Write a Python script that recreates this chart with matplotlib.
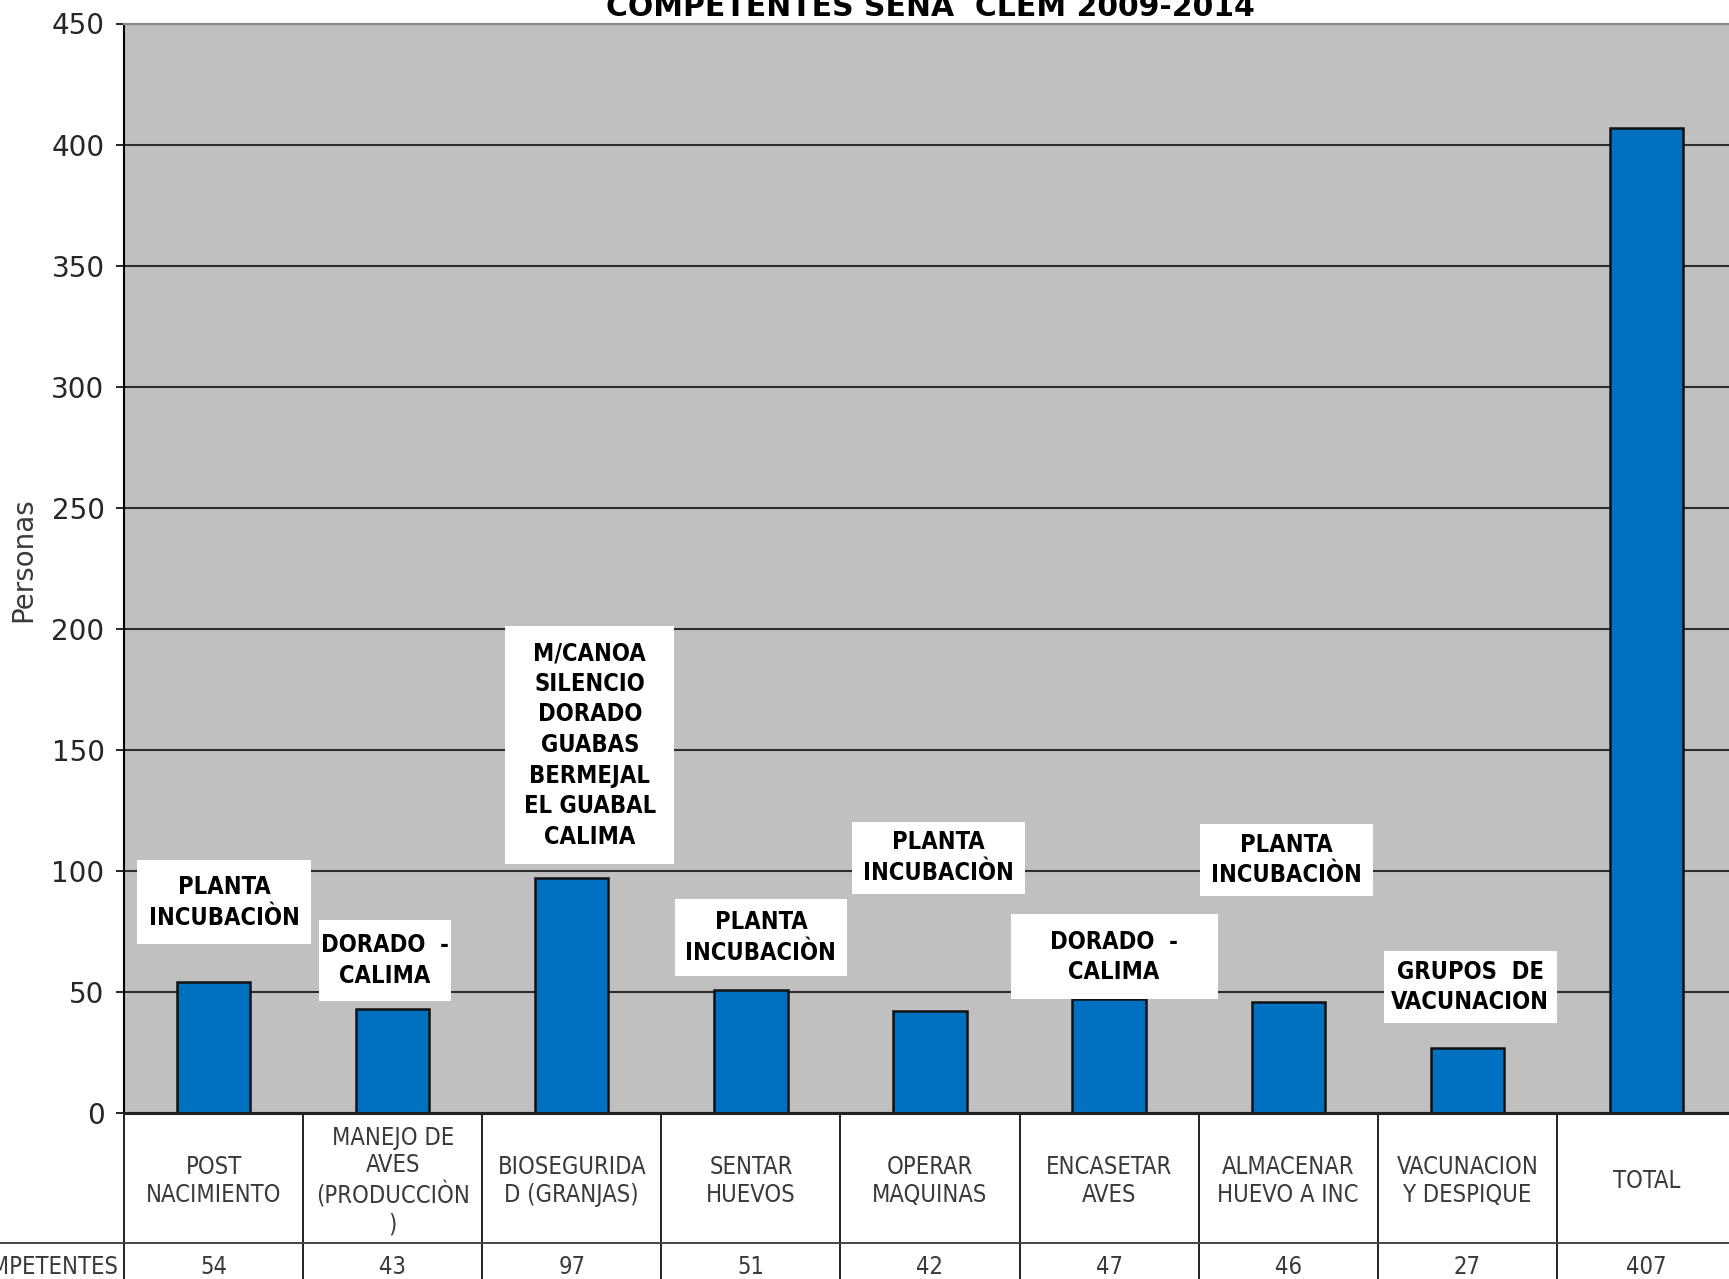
import matplotlib
matplotlib.use("Agg")
import matplotlib.pyplot as plt
from matplotlib import font_manager
from matplotlib.patches import Rectangle
from matplotlib.lines import Line2D
from matplotlib.transforms import ScaledTranslation

# datos de la grafica
categorias = ["POST\nNACIMIENTO", "MANEJO DE\nAVES\n(PRODUCCIÒN\n)", "BIOSEGURIDA\nD (GRANJAS)",
              "SENTAR\nHUEVOS", "OPERAR\nMAQUINAS", "ENCASETAR\nAVES",
              "ALMACENAR\nHUEVO A INC", "VACUNACION\nY DESPIQUE", "TOTAL"]
competentes = [54, 43, 97, 51, 42, 47, 46, 27, 407]
lugares = ["PLANTA\nINCUBACIÒN", "DORADO  -\nCALIMA",
           "M/CANOA\nSILENCIO\nDORADO\nGUABAS\nBERMEJAL\nEL GUABAL\nCALIMA",
           "PLANTA\nINCUBACIÒN", "PLANTA\nINCUBACIÒN", "DORADO  -\nCALIMA",
           "PLANTA\nINCUBACIÒN", "GRUPOS  DE\nVACUNACION"]
titulo = "COMPETENTES SENA  CLEM 2009-2014"

# donde van las cajas blancas de los lugares (desplazamiento en columnas, centro en personas, tamaño en px)
caja_dx = [0.06, -0.045, 0.10, 0.056, 0.045, 0.028, -0.008, 0.017]
caja_y = [87, 63, 152, 72.5, 105.5, 64.5, 104.5, 52]
caja_w = [174, 132, 169, 172, 173, 207, 173, 173]
caja_h = [84, 81, 238, 77, 72, 85, 72, 72]

W, H = 1729, 1279
fig = plt.figure(figsize=(W / 100, H / 100), dpi=100)

# pixeles de la imagen original
left_px, right_px, top_px, zero_px = 124, 1736, 23.5, 1113
ax = fig.add_axes([left_px / W, 1 - zero_px / H, (right_px - left_px) / W, (zero_px - top_px) / H])

def ypx(p):
    # pixel desde arriba -> coordenada de ejes en y
    return (zero_px - p) / (zero_px - top_px)

fuentes = font_manager.fontManager.ttflist
nombres = {f.name for f in fuentes}
condensada = any(f.name == "DejaVu Sans" and f.stretch == "condensed" for f in fuentes)
if "Liberation Sans Narrow" in nombres:
    lab_font, lab_size, lab_stretch = "Liberation Sans Narrow", 19, "normal"
elif condensada:
    lab_font, lab_size, lab_stretch = "DejaVu Sans", 17, "condensed"
else:
    lab_font, lab_size, lab_stretch = "DejaVu Sans", 15, "normal"
cat_size = 17 if condensada else 15.5
cat_stretch = "condensed" if condensada else "normal"

ax.set_facecolor("#c0c0c0")
x = list(range(len(categorias)))
ax.bar(x, competentes, width=0.41, color="#0070c0", edgecolor="#111111", linewidth=1.8, zorder=2)

ax.set_xlim(-0.5, len(categorias) - 0.5)
ax.set_ylim(0, 450)
ax.set_yticks(range(0, 451, 50))
ax.yaxis.grid(True, color="#2e2e2e", linewidth=1.5)
ax.set_axisbelow(True)
ax.set_xticks([])
ax.tick_params(axis="y", length=6, width=1.2, pad=8, labelsize=20, labelcolor="#262626")

ax.spines["right"].set_visible(False)
ax.spines["top"].set_color("#8a8a8a")
ax.spines["top"].set_linewidth(1.6)
ax.spines["left"].set_linewidth(1.5)
ax.spines["bottom"].set_linewidth(2.2)
ax.spines["bottom"].set_color("#222222")

# cajas con los lugares
for i, txt in enumerate(lugares):
    cx = i + caja_dx[i]
    tr = fig.dpi_scale_trans + ScaledTranslation(cx, caja_y[i], ax.transData)
    w, h = caja_w[i] / 100, caja_h[i] / 100
    ax.add_patch(Rectangle((-w / 2, -h / 2), w, h, transform=tr, facecolor="white",
                           edgecolor="none", zorder=4, clip_on=False))
    ax.text(cx, caja_y[i], txt, ha="center", va="center", fontsize=lab_size, family=lab_font,
            stretch=lab_stretch, fontweight="bold", linespacing=1.35, zorder=5)

# tabla de abajo
trx = ax.get_xaxis_transform()
bottom_ax = ypx(H + 5)
for i in range(len(categorias)):
    ax.add_line(Line2D([i - 0.5, i - 0.5], [0, bottom_ax], transform=trx, color="#222222",
                       linewidth=1.4, clip_on=False))
    ax.text(i, ypx(1181), categorias[i], transform=trx, ha="center", va="center",
            fontsize=cat_size, stretch=cat_stretch, color="#3a3a3a", linespacing=1.19)
    ax.text(i, ypx(1267), str(competentes[i]), transform=trx, ha="center", va="center",
            fontsize=cat_size, stretch=cat_stretch, color="#3a3a3a")
fig.add_artist(Line2D([0, 1], [1 - 1243 / H, 1 - 1243 / H], transform=fig.transFigure,
                      color="#444444", linewidth=1.4))
fig.text(119 / W, 1 - 1267 / H, "COMPETENTES", ha="right", va="center",
         fontsize=cat_size, stretch=cat_stretch, color="#3a3a3a")

fig.text(23 / W, 1 - 560 / H, "Personas", rotation=90, ha="center", va="center",
         fontsize=20, color="#3a3a3a")
fig.text((left_px + right_px) / 2 / W, 1 - 16 / H, titulo, ha="center", va="baseline",
         fontsize=21.5, fontweight="bold")

fig.savefig("out.png", dpi=100, facecolor="white")
